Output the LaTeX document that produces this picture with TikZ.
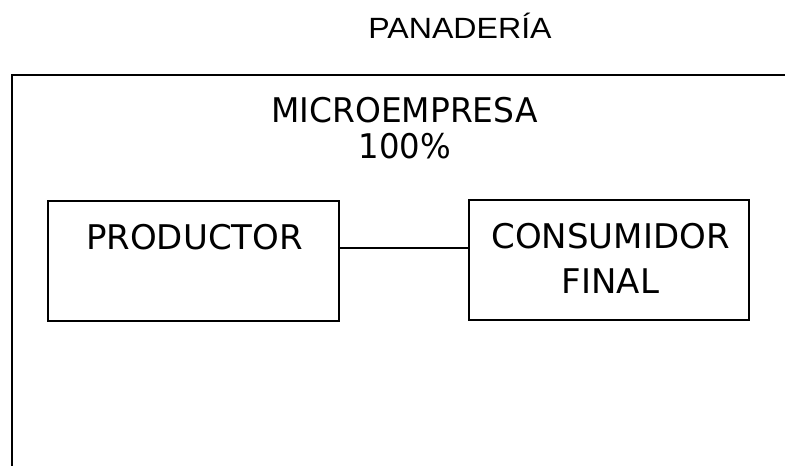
\documentclass[tikz,border=0pt]{standalone}
\usepackage{fontspec}
\setmainfont{Liberation Sans}
\newfontfamily\tah{DejaVu Sans}
\begin{document}
\begin{tikzpicture}[x=1pt,y=-1pt,
  box/.style={draw=black,line width=1.8pt,minimum width=291pt,minimum height=120pt,inner sep=0pt},
  lbl/.style={anchor=base,inner sep=0pt,font=\tah\fontsize{34}{40}\selectfont},
  title/.style={anchor=base,inner sep=0pt,font=\fontsize{29.3}{34}\selectfont}]
\useasboundingbox (0,0) rectangle (785,466);
\node[title] (t) at (460,38) {\scalebox{1.096}[1]{PANADERÍA}};
\coordinate (oc) at (12,75);
\coordinate (ocr) at (785,75);
\coordinate (ocb) at (12,466);
\draw[line width=2.2pt] (ocr) -- (oc) -- (ocb);
\node[lbl] (m) at (404.5,122) {\scalebox{0.967}[1]{MICROEMPRESA}};
\node[lbl] (p) at (405,158) {\scalebox{0.95}[1]{100\%}};
\node[box] (prod) at (193.5,261) {};
\node[box,minimum width=280pt] (cons) at (609,260) {};
\node[lbl] at (194.5,249) {PRODUCTOR};
\node[lbl] at (610.5,248) {CONSUMIDOR};
\node[lbl] at (610.5,293) {FINAL};
\draw[line width=1.2pt] ([yshift=13pt]prod.east) -- ([yshift=13pt]prod.east -| cons.west);
\end{tikzpicture}
\end{document}
